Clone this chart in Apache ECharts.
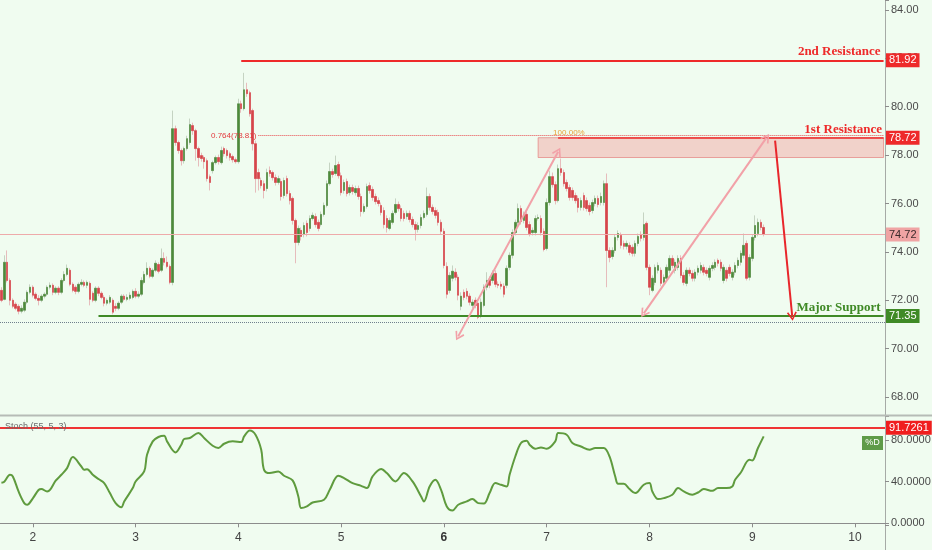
<!DOCTYPE html>
<html>
<head>
<meta charset="utf-8">
<title>Crude oil 1H - support / resistance</title>
<script src="https://cdn.jsdelivr.net/npm/echarts@6/dist/echarts.min.js"></script>
<style>
html, body { margin: 0; padding: 0; background: #f0fcf0; }
#chart { width: 932px; height: 550px; }
</style>
</head>
<body>
<div id="chart"></div>
<script>
// Data
//-----

// x axis: bar slots, day labels
var dayLabels = ['2', '3', '4', '5', '6', '7', '8', '9', '10'];
var firstDayBar = 11;
var barsPerDay = 36;
var barSlots = 310;

// price bars: [open, close, low, high]
var candles = [
  [72.41,72.00,71.92,72.54],[72.04,73.57,72.00,73.86],[73.57,72.82,72.74,74.06],[72.82,72.00,71.79,72.91],
  [72.00,71.75,71.67,72.08],[71.84,71.67,71.59,71.92],[71.75,71.55,71.42,71.84],[71.55,71.67,71.46,71.79],
  [71.59,71.92,71.51,72.04],[71.92,72.33,71.84,72.41],[72.33,72.54,72.25,72.66],[72.54,72.21,72.12,72.62],
  [72.25,72.08,72.00,72.33],[72.08,72.00,71.79,72.21],[72.00,72.17,71.92,72.25],[72.17,72.25,72.08,72.33],
  [72.25,72.54,72.17,72.62],[72.54,72.62,72.45,72.74],[72.62,72.33,72.21,72.70],[72.33,72.50,72.25,72.58],
  [72.50,72.33,72.21,72.58],[72.33,72.82,72.25,72.91],[72.82,73.07,72.74,73.20],[73.07,73.32,72.99,73.48],
  [73.24,72.66,72.58,73.32],[72.66,72.41,72.33,72.74],[72.54,72.37,72.25,72.62],[72.37,72.66,72.29,72.74],
  [72.66,72.74,72.58,72.87],[72.74,72.62,72.54,72.82],[72.62,72.74,72.50,72.82],[72.70,72.04,71.79,72.78],
  [72.29,72.00,71.92,72.37],[72.00,72.50,71.92,72.58],[72.50,72.29,72.17,72.58],[72.29,72.12,72.04,72.37],
  [72.12,71.88,71.75,72.21],[71.88,72.00,71.79,72.08],[71.92,72.12,71.84,72.21],[72.00,71.51,71.42,72.08],
  [71.75,71.67,71.55,71.88],[71.67,71.88,71.59,71.96],[71.92,72.17,71.84,72.25],[72.17,72.04,71.96,72.25],
  [72.04,72.12,71.96,72.25],[72.08,72.21,72.00,72.33],[72.12,72.37,72.04,72.45],[72.37,72.17,72.08,72.50],
  [72.17,72.25,72.08,72.37],[72.25,72.82,72.17,72.95],[72.74,73.07,72.66,73.20],[73.07,73.32,72.99,73.57],
  [73.32,72.99,72.91,73.40],[72.99,73.24,72.91,73.32],[73.24,73.53,73.16,73.65],[73.48,73.20,73.11,73.57],
  [73.24,73.73,73.16,74.14],[73.73,73.57,73.44,73.98],[73.57,73.40,73.32,73.81],[73.40,72.74,72.66,73.48],
  [72.74,79.09,72.62,79.84],[79.09,78.52,78.39,79.22],[78.52,78.19,78.06,78.60],[78.19,77.77,77.57,78.27],
  [77.77,78.27,77.65,78.35],[78.27,78.68,78.19,78.80],[78.52,79.26,78.43,79.51],[79.22,79.01,78.84,79.34],
  [79.01,78.27,77.77,79.09],[78.27,77.90,77.53,78.35],[77.98,77.86,77.73,78.10],[77.90,77.73,77.44,77.98],
  [77.77,77.03,76.91,77.86],[77.11,76.87,76.54,77.20],[77.36,77.69,77.24,77.77],[77.69,77.90,77.61,77.98],
  [77.90,77.73,77.61,78.02],[77.69,78.19,77.61,78.35],[78.27,78.06,77.94,78.35],[78.19,77.98,77.86,78.27],
  [78.06,77.90,77.77,78.14],[77.94,77.81,77.69,78.02],[77.81,77.73,77.65,77.90],[77.73,80.12,77.65,80.33],
  [80.12,79.92,79.75,80.25],[79.92,80.70,79.84,81.40],[80.70,80.54,80.41,80.99],[80.58,79.71,79.59,80.66],
  [79.84,78.47,78.19,79.92],[78.47,77.03,76.45,78.60],[77.28,77.03,76.54,77.44],[76.95,76.74,76.62,77.07],
  [76.82,76.54,76.21,76.95],[76.62,77.28,76.50,77.44],[77.36,77.24,77.11,77.53],[77.28,77.07,76.95,77.36],
  [77.07,76.87,76.74,77.20],[76.87,77.03,76.78,77.15],[76.91,76.29,76.12,77.03],[76.33,76.95,76.21,77.07],
  [77.03,76.41,76.29,77.15],[76.41,76.12,75.96,76.54],[76.21,75.30,75.13,76.29],[75.30,74.39,73.53,75.38],
  [74.39,74.97,74.27,75.09],[74.89,74.64,74.47,75.01],[74.72,75.09,74.60,75.22],[75.18,74.80,74.64,75.30],
  [74.97,75.38,74.85,75.51],[75.38,75.51,75.30,75.63],[75.46,75.13,75.01,75.59],[75.22,74.97,74.85,75.34],
  [75.13,75.55,75.05,75.67],[75.55,75.92,75.46,76.04],[75.92,76.82,75.84,76.95],[76.82,77.32,76.74,77.69],
  [77.32,77.20,77.07,77.44],[77.24,77.57,77.15,77.98],[77.61,77.15,77.03,77.73],[77.15,76.45,76.33,77.28],
  [76.54,76.87,76.41,76.99],[76.91,76.41,76.29,77.03],[76.45,76.66,76.33,76.78],[76.66,76.50,76.37,76.78],
  [76.45,76.62,76.33,76.74],[76.62,76.29,76.16,76.74],[76.29,75.67,75.46,76.41],[75.67,75.88,75.59,76.00],
  [75.88,76.70,75.79,76.82],[76.74,76.54,76.41,76.87],[76.58,76.25,76.12,76.70],[76.29,76.08,75.96,76.41],
  [76.12,76.00,75.88,76.25],[75.92,75.63,75.51,76.04],[75.71,75.13,74.97,75.84],[75.38,75.01,74.80,75.51],
  [74.97,75.30,74.89,75.42],[75.22,75.59,75.13,75.71],[75.63,75.96,75.55,76.21],[75.96,75.79,75.67,76.08],
  [75.79,75.38,75.26,75.92],[75.59,75.38,75.26,75.71],[75.46,75.59,75.34,75.71],[75.59,75.34,75.22,75.71],
  [75.34,75.13,75.01,75.46],[75.13,74.93,74.47,75.26],[74.93,75.09,74.80,75.22],[75.09,75.42,74.97,75.55],
  [75.42,75.59,75.34,75.71],[75.55,76.29,75.46,76.66],[76.29,75.84,75.71,76.41],[75.84,75.67,75.55,75.96],
  [75.71,75.51,75.38,75.84],[75.63,75.22,75.09,75.75],[75.22,74.85,74.72,75.34],[74.85,73.44,73.32,74.97],
  [73.40,72.25,72.08,73.57],[72.41,73.03,72.29,73.16],[72.91,73.20,72.78,73.44],[73.16,72.95,72.82,73.32],
  [72.95,72.21,72.00,73.07],[71.75,72.17,71.59,72.33],[72.33,72.12,72.00,72.45],[72.37,72.17,72.04,72.50],
  [72.17,71.92,71.79,72.29],[71.79,71.92,71.67,72.04],[72.00,71.79,71.67,72.12],[71.88,71.30,71.22,72.00],
  [71.34,71.92,71.26,72.08],[71.79,72.54,71.71,72.66],[72.54,72.82,72.41,73.16],[72.87,72.62,72.50,72.99],
  [72.82,73.11,72.70,73.24],[73.11,72.66,72.54,73.24],[72.66,72.62,72.50,72.78],[72.66,72.58,72.45,72.78],
  [72.58,72.25,72.12,72.70],[72.62,73.32,72.50,73.44],[73.36,73.86,73.24,73.98],[73.86,74.80,73.73,74.93],
  [74.80,75.22,74.68,75.34],[75.22,75.79,75.09,76.00],[75.79,75.26,75.13,75.92],[75.30,75.55,75.18,75.67],
  [75.55,75.01,74.89,75.67],[75.13,74.76,74.64,75.26],[74.80,74.89,74.68,75.01],[74.80,75.38,74.68,75.51],
  [75.38,75.42,75.30,75.55],[75.38,74.80,74.68,75.51],[74.85,74.10,74.02,74.97],[74.14,76.04,74.06,76.21],
  [76.04,77.11,75.92,77.36],[77.11,76.78,76.66,77.28],[76.78,76.12,75.96,76.91],[76.12,77.44,76.04,77.61],
  [77.44,77.28,77.15,77.86],[77.28,76.82,76.70,77.40],[76.87,76.62,76.50,76.99],[76.66,76.25,76.12,76.78],
  [76.54,76.25,76.12,76.66],[76.33,76.12,76.00,76.45],[76.21,75.84,75.63,76.33],[75.84,76.12,75.71,76.25],
  [76.33,75.84,75.71,76.45],[76.12,75.79,75.67,76.25],[75.92,75.67,75.51,76.04],[75.71,76.04,75.59,76.16],
  [76.00,76.21,75.88,76.33],[76.21,75.96,75.84,76.33],[76.04,76.29,75.92,76.45],[76.04,76.82,75.92,76.95],
  [76.82,74.06,72.54,77.24],[74.06,73.77,73.57,74.19],[73.81,74.06,73.69,74.19],[74.06,74.60,73.94,74.72],
  [74.60,74.76,74.47,74.89],[74.68,74.27,74.14,74.80],[74.35,74.23,74.10,74.47],[74.23,74.35,74.10,74.47],
  [74.27,73.98,73.86,74.39],[74.19,73.94,73.81,74.31],[73.94,74.35,73.81,74.47],[74.35,74.64,74.23,74.76],
  [74.72,74.56,74.43,74.85],[74.60,75.13,74.47,75.63],[75.18,73.36,73.24,75.26],[73.36,72.54,72.21,73.48],
  [72.41,72.91,72.33,73.03],[72.74,73.36,72.62,73.48],[73.24,73.44,73.11,73.57],[73.24,72.70,72.58,73.36],
  [72.74,72.95,72.62,73.07],[72.91,73.36,72.78,73.48],[73.24,73.73,73.11,73.86],[73.73,73.44,73.32,73.86],
  [73.24,73.57,73.11,73.69],[73.36,73.73,73.24,73.86],[73.73,73.03,72.91,73.86],[73.03,72.74,72.62,73.16],
  [72.70,73.24,72.58,73.36],[73.24,73.11,72.99,73.36],[73.11,72.91,72.78,73.24],[72.91,73.16,72.78,73.28],
  [73.16,73.32,73.03,73.44],[73.24,73.44,73.11,73.57],[73.36,73.16,73.03,73.48],[73.24,73.11,72.99,73.36],
  [72.95,73.32,72.82,73.44],[73.32,73.44,73.20,73.57],[73.36,73.57,73.24,73.69],[73.65,73.53,73.40,73.73],
  [73.57,73.32,73.20,73.69],[72.82,73.36,72.70,73.48],[73.24,72.91,72.78,73.36],[73.36,73.11,72.99,73.48],
  [72.95,73.16,72.82,73.28],[73.16,73.44,73.03,73.57],[73.44,73.65,73.32,73.77],[73.57,73.94,73.44,74.06],
  [73.86,74.27,73.73,74.76],[74.35,72.91,72.82,74.47],[72.95,73.77,72.82,73.90],[73.73,74.60,73.61,74.72],
  [74.60,75.09,74.47,75.51],[74.76,75.22,74.64,75.38],[75.22,75.01,74.89,75.34],[75.01,74.72,74.64,75.13]
];

// stochastic %D: [bar index, value]
var stochD = [
  [0,39],[1,40],[3,46.6],[4,45],[6,30.6],[8,19.4],[9,17.8],[11,24],[13,32],[14,33],[16,30.6],[17,32],
  [19,40.9],[21,46.6],[23,53],[25,63.6],[28,54.6],[29,51.4],[30,52],[32,46.6],[34,42.5],[36,38.6],
  [38,29],[40,19.4],[42,15.5],[43,21],[46,33.8],[47,40.2],[50,49.8],[51,65.9],[53,78.7],[55,82.9],
  [57,84.1],[58,78.7],[61,68.1],[63,75.5],[64,81],[66,81.9],[69,86.7],[71,81.9],[74,74.5],[76,72.3],
  [78,76.4],[81,78.7],[84,78],[85,83.5],[87,89.2],[89,85.1],[91,70.7],[92,51.4],[94,48.3],[97,49.8],
  [99,45.7],[102,41.2],[104,25.8],[105,14.6],[107,16.2],[109,20],[113,22.6],[115,32.2],[118,45.7],
  [120,43.5],[123,38.6],[126,36],[128,33.8],[130,45],[133,52.1],[135,48.3],[138,40.2],[141,48.3],
  [144,40.2],[147,25.8],[148,21],[150,35.4],[152,41.8],[154,32.2],[156,16.2],[158,12.3],[160,17.8],
  [163,21],[165,23.3],[167,19.4],[169,19],[171,29],[173,38.6],[175,37],[177,35.4],[178,46.6],
  [180,64.2],[182,77.1],[184,79.3],[185,75.5],[187,71.6],[189,72.9],[191,71.6],[194,78.7],[195,86.7],
  [198,85.1],[200,77.1],[203,73.8],[206,70.7],[208,72.3],[211,72.3],[213,64.2],[215,45],[216,38],
  [218,38],[220,32.9],[222,29],[223,30.6],[225,37],[227,38.6],[228,30.6],[230,23.3],[232,24.2],
  [235,27.4],[237,33.8],[239,30.6],[242,27.4],[244,29.6],[246,32.9],[249,31.2],[251,33.8],[254,33.8],
  [256,35.4],[257,41.8],[259,48.8],[262,61],[263,60.4],[265,72.3],[267,83.5]
];

// levels
var secondRes = 81.92;
var firstRes = 78.72;
var fib764 = 78.81;
var zoneLow = 77.90;
var lastPrice = 74.72;
var support = 71.35;
var lowDots = 71.09;
var stochLevel = 91.7261;

// where the drawn levels start (bar index)
var secondResFrom = 84;
var fibFrom = 90;
var firstResFrom = 195;
var zoneFrom = 188;
var supportFrom = 34;

// arrows: [bar, price] pairs
var arrowUp1 = [[160, 70.51], [195, 78.14]];
var arrowUp2 = [[225, 71.46], [268, 78.72]];
var arrowDown = [[271, 78.60], [277, 71.34]];

// axis ranges
var priceMin = 67.26, priceMax = 84.41;
var stochMin = -1.63, stochMax = 103.07;


// Chart
//------
var lastSlot = barSlots - 1;
var cats = [];
for (var i = 0; i < barSlots; i++) cats.push(String(i));

var bodies = candles.map(function (d) {
  return [d[0], d[1], Math.min(d[0], d[1]), Math.max(d[0], d[1])];
});

var isDayStart = function (index) {
  return index >= firstDayBar && (index - firstDayBar) % barsPerDay === 0;
};

var red = '#ee2a2a';
var green = '#3f8a26';
var labelFont = 'Liberation Sans';
var noteFont = 'Liberation Serif';
var arrowHead = 'path://M5,0 L10,8 L8.6,9 L5,2.8 L1.4,9 L0,8 Z';

var tag = function (text, bg, fg) {
  return {
    show: true, position: 'end', distance: 1, formatter: text,
    backgroundColor: bg, color: fg || '#fff', padding: [2, 3, 1, 3],
    fontSize: 11, fontFamily: labelFont
  };
};
var note = function (text, color) {
  return {
    show: true, position: 'insideEndTop', distance: [3, 2], formatter: text,
    color: color, fontSize: 13, fontWeight: 'bold', fontFamily: noteFont
  };
};
// invisible line that only carries a label
var hidden = { color: 'rgba(0,0,0,0)', width: 1, type: 'solid' };

var mainLines = [
  // 2nd resistance
  [{ coord: [secondResFrom, secondRes], lineStyle: { color: red, width: 2, type: 'solid' }, label: note('2nd Resistance', red) },
   { coord: [lastSlot, secondRes] }],
  { yAxis: secondRes, lineStyle: hidden, label: tag('81.92', red) },
  // fib 0.764 dotted
  [{ coord: [fibFrom, fib764], lineStyle: { color: '#e8484c', width: 1, type: 'dotted' },
     label: { show: true, position: 'start', distance: 2, formatter: '0.764(78.81)', color: '#e3393d', fontSize: 8, fontFamily: labelFont } },
   { coord: [lastSlot, fib764] }],
  // 1st resistance
  [{ coord: [firstResFrom, firstRes], lineStyle: { color: red, width: 1.5, type: 'solid' },
     label: { show: true, position: 'insideStartTop', distance: [-5, 1], formatter: '100.00%', color: '#e9a23b', fontSize: 8, fontFamily: labelFont } },
   { coord: [lastSlot, firstRes] }],
  { yAxis: firstRes, lineStyle: hidden, label: note('1st Resistance', red) },
  { yAxis: firstRes, lineStyle: hidden, label: tag('78.72', red) },
  // last price
  { yAxis: lastPrice, lineStyle: { color: '#eeaaaa', width: 1, type: 'solid' }, label: tag('74.72', '#f0a4a4', '#3a2a2a') },
  // support
  [{ coord: [supportFrom, support], lineStyle: { color: green, width: 2, type: 'solid' }, label: note('Major Support', green) },
   { coord: [lastSlot, support] }],
  { yAxis: support, lineStyle: hidden, label: tag('71.35', green) },
  { yAxis: lowDots, lineStyle: { color: '#6f7f8c', width: 1, type: 'dotted' }, label: { show: false } },
  // arrows
  [{ coord: arrowUp1[0], symbol: arrowHead, lineStyle: { color: '#f2a1a8', width: 2, type: 'solid' }, label: { show: false } },
   { coord: arrowUp1[1], symbol: arrowHead }],
  [{ coord: arrowUp2[0], symbol: arrowHead, lineStyle: { color: '#f2a1a8', width: 2, type: 'solid' }, label: { show: false } },
   { coord: arrowUp2[1], symbol: arrowHead }],
  [{ coord: arrowDown[0], symbol: 'none', lineStyle: { color: '#e8262b', width: 2, type: 'solid' }, label: { show: false } },
   { coord: arrowDown[1], symbol: arrowHead }]
];

var myChart = echarts.init(document.getElementById('chart'));
var option = {
  animation: false,
  backgroundColor: '#f0fcf0',
  textStyle: { fontFamily: labelFont },
  grid: [
    { left: 0, right: 47, top: 0, height: 415, containLabel: false, outerBoundsMode: 'none' },
    { left: 0, right: 47, top: 416, height: 109, containLabel: false, outerBoundsMode: 'none' }
  ],
  xAxis: [
    {
      type: 'category', gridIndex: 0, data: cats, boundaryGap: true,
      axisLine: { show: false }, axisTick: { show: false }, axisLabel: { show: false }, splitLine: { show: false }
    },
    {
      type: 'category', gridIndex: 1, data: cats, boundaryGap: true,
      axisLine: { show: true, lineStyle: { color: '#8c8c8c', width: 1 } },
      axisTick: { show: true, alignWithLabel: true, length: 4, interval: isDayStart, lineStyle: { color: '#8c8c8c' } },
      axisLabel: {
        show: true, interval: isDayStart, margin: 7, color: '#444', fontSize: 12,
        formatter: function (value) {
          var n = (Number(value) - firstDayBar) / barsPerDay;
          var t = dayLabels[n] || '';
          return t === '6' ? '{b|6}' : t;
        },
        rich: { b: { fontWeight: 'bold', color: '#333', fontSize: 12 } }
      },
      splitLine: { show: false }
    }
  ],
  yAxis: [
    {
      type: 'value', gridIndex: 0, position: 'right', scale: true,
      min: priceMin, max: priceMax, minInterval: 2, maxInterval: 2, splitNumber: 8,
      axisLine: { show: true, lineStyle: { color: '#a6aaa6' } },
      axisTick: { show: true, length: 4, lineStyle: { color: '#8c8c8c' } },
      axisLabel: {
        color: '#4a4a4a', fontSize: 11, margin: 6,
        formatter: function (v) { return Math.abs(v / 2 - Math.round(v / 2)) < 1e-6 ? v.toFixed(2) : ''; }
      },
      splitLine: { show: false }
    },
    {
      type: 'value', gridIndex: 1, position: 'right',
      min: stochMin, max: stochMax, minInterval: 40, maxInterval: 40, splitNumber: 3,
      axisLine: { show: true, lineStyle: { color: '#a6aaa6' } },
      axisTick: { show: true, length: 4, lineStyle: { color: '#8c8c8c' } },
      axisLabel: {
        color: '#4a4a4a', fontSize: 11, margin: 6,
        formatter: function (v) { return Math.abs(v / 40 - Math.round(v / 40)) < 1e-6 ? v.toFixed(4) : ''; }
      },
      splitLine: { show: false }
    }
  ],
  series: [
    {
      name: 'wicks', type: 'candlestick', xAxisIndex: 0, yAxisIndex: 0,
      data: candles, barWidth: 2, z: 2,
      itemStyle: { color: '#c5d3c2', color0: '#e6bcbc', borderColor: '#c5d3c2', borderColor0: '#e6bcbc', borderWidth: 1 }
    },
    {
      name: 'bars', type: 'candlestick', xAxisIndex: 0, yAxisIndex: 0,
      data: bodies, barWidth: 2, z: 3,
      itemStyle: { color: '#4d8a3a', color0: '#d6454a', borderColor: '#4d8a3a', borderColor0: '#d6454a', borderWidth: 0.6 },
      markArea: {
        silent: true,
        data: [[
          { coord: [zoneFrom, firstRes], itemStyle: { color: 'rgba(242,120,120,0.32)', borderColor: 'rgba(226,110,110,0.6)', borderWidth: 1 } },
          { coord: [lastSlot, zoneLow] }
        ]]
      },
      markLine: {
        silent: true, symbol: 'none', symbolSize: [10, 9], animation: false,
        data: mainLines
      }
    },
    {
      name: '%D', type: 'line', xAxisIndex: 1, yAxisIndex: 1,
      data: stochD, smooth: 0.35, showSymbol: false,
      lineStyle: { color: '#5f9b3e', width: 2 },
      markLine: {
        silent: true, symbol: 'none', animation: false,
        data: [{ yAxis: stochLevel, lineStyle: { color: '#f03434', width: 2, type: 'solid' }, label: tag('91.7261', '#f01e1e') }]
      }
    }
  ],
  graphic: [
    { type: 'line', shape: { x1: 0, y1: 415.5, x2: 932, y2: 415.5 }, style: { stroke: '#b6bbb6', lineWidth: 2 }, z: 10 },
    { type: 'line', shape: { x1: 885.5, y1: 525, x2: 885.5, y2: 550 }, style: { stroke: '#a6aaa6', lineWidth: 1 } },
    { type: 'text', left: 5, top: 422, style: { text: 'Stoch (55, 5, 3)', fill: '#6a6a6a', font: '9px Liberation Sans' }, z: 10 },
    { type: 'rect', shape: { x: 862, y: 436, width: 21, height: 14 }, style: { fill: '#5f9b48' }, z: 10 },
    { type: 'text', x: 872.5, y: 443, style: { text: '%D', fill: '#fff', font: '9px Liberation Sans', align: 'center', verticalAlign: 'middle' }, z: 11 }
  ]
};
myChart.setOption(option);
</script>
</body>
</html>
